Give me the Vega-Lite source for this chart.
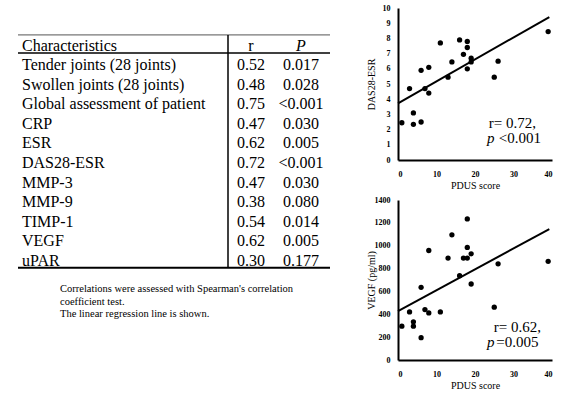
{
  "$schema": "https://vega.github.io/schema/vega-lite/v6.json",
  "padding": {"left": 0, "top": 4, "right": 0, "bottom": 0},
  "background": "white",
  "spacing": 26,
  "config": {
    "view": {"stroke": null},
    "font": "Liberation Serif",
    "text": {"font": "Liberation Serif"},
    "axis": {
      "domainColor": "black",
      "domainWidth": 2,
      "ticks": false,
      "tickSize": 0,
      "tickCount": 20,
      "grid": false,
      "labelOverlap": false,
      "labelFont": "Liberation Serif",
      "labelFontWeight": "bold",
      "labelFontSize": 8,
      "labelColor": "black",
      "titleFont": "Liberation Serif",
      "titleFontWeight": "normal",
      "titleFontSize": 10,
      "titleColor": "black"
    },
    "axisX": {"labelPadding": 10, "titlePadding": 2},
    "axisY": {"labelPadding": 8, "minExtent": 22, "maxExtent": 22, "titlePadding": 0}
  },
  "datasets": {
    "table": [
      {"row": 0, "Characteristics": "Characteristics", "r": "r", "P": "P"},
      {"row": 1, "Characteristics": "Tender joints (28 joints)", "r": "0.52", "P": "0.017"},
      {"row": 2, "Characteristics": "Swollen joints (28 joints)", "r": "0.48", "P": "0.028"},
      {"row": 3, "Characteristics": "Global assessment of patient", "r": "0.75", "P": "<0.001"},
      {"row": 4, "Characteristics": "CRP", "r": "0.47", "P": "0.030"},
      {"row": 5, "Characteristics": "ESR", "r": "0.62", "P": "0.005"},
      {"row": 6, "Characteristics": "DAS28-ESR", "r": "0.72", "P": "<0.001"},
      {"row": 7, "Characteristics": "MMP-3", "r": "0.47", "P": "0.030"},
      {"row": 8, "Characteristics": "MMP-9", "r": "0.38", "P": "0.080"},
      {"row": 9, "Characteristics": "TIMP-1", "r": "0.54", "P": "0.014"},
      {"row": 10, "Characteristics": "VEGF", "r": "0.62", "P": "0.005"},
      {"row": 11, "Characteristics": "uPAR", "r": "0.30", "P": "0.177"}
    ],
    "das": [
      {"PDUS": 1, "DAS28": 2.45}, {"PDUS": 3, "DAS28": 4.7}, {"PDUS": 4, "DAS28": 3.1},
      {"PDUS": 4, "DAS28": 2.35}, {"PDUS": 6, "DAS28": 2.5}, {"PDUS": 6, "DAS28": 5.9},
      {"PDUS": 7, "DAS28": 4.7}, {"PDUS": 8, "DAS28": 4.4}, {"PDUS": 8, "DAS28": 6.1},
      {"PDUS": 11, "DAS28": 7.7}, {"PDUS": 13, "DAS28": 5.45}, {"PDUS": 14, "DAS28": 6.45},
      {"PDUS": 16, "DAS28": 7.9}, {"PDUS": 17, "DAS28": 6.95}, {"PDUS": 18, "DAS28": 7.8},
      {"PDUS": 18, "DAS28": 7.4}, {"PDUS": 18, "DAS28": 6.0}, {"PDUS": 19, "DAS28": 6.7},
      {"PDUS": 19, "DAS28": 6.45}, {"PDUS": 25, "DAS28": 5.45}, {"PDUS": 26, "DAS28": 6.5},
      {"PDUS": 39, "DAS28": 8.45}
    ],
    "vegf": [
      {"PDUS": 1, "VEGF": 296}, {"PDUS": 3, "VEGF": 421}, {"PDUS": 4, "VEGF": 334},
      {"PDUS": 4, "VEGF": 296}, {"PDUS": 6, "VEGF": 195}, {"PDUS": 6, "VEGF": 636},
      {"PDUS": 7, "VEGF": 441}, {"PDUS": 8, "VEGF": 412}, {"PDUS": 8, "VEGF": 958},
      {"PDUS": 11, "VEGF": 421}, {"PDUS": 13, "VEGF": 892}, {"PDUS": 14, "VEGF": 1095},
      {"PDUS": 16, "VEGF": 738}, {"PDUS": 17, "VEGF": 892}, {"PDUS": 18, "VEGF": 1234},
      {"PDUS": 18, "VEGF": 985}, {"PDUS": 18, "VEGF": 892}, {"PDUS": 19, "VEGF": 929},
      {"PDUS": 19, "VEGF": 665}, {"PDUS": 25, "VEGF": 462}, {"PDUS": 26, "VEGF": 842},
      {"PDUS": 39, "VEGF": 863}
    ]
  },
  "hconcat": [
    {
      "width": 340,
      "height": 330,
      "layer": [
        {
          "data": {"name": "table"},
          "mark": {"type": "text", "align": "left", "baseline": "middle", "fontSize": 16, "font": "Liberation Serif", "color": "black"},
          "encoding": {
            "x": {"datum": 22, "type": "quantitative", "scale": {"domain": [0, 340], "nice": false, "zero": false}, "axis": null},
            "y": {"field": "row", "type": "quantitative", "scale": {"domain": [0, 11], "range": [37.5, 253], "nice": false, "zero": false}, "axis": null},
            "text": {"field": "Characteristics"}
          }
        },
        {
          "data": {"name": "table"},
          "mark": {"type": "text", "align": "center", "baseline": "middle", "fontSize": 16, "font": "Liberation Serif", "color": "black"},
          "encoding": {
            "x": {"datum": 251, "type": "quantitative"},
            "y": {"field": "row", "type": "quantitative"},
            "text": {"field": "r"}
          }
        },
        {
          "data": {"name": "table"},
          "transform": [{"filter": "datum.row > 0"}],
          "mark": {"type": "text", "align": "center", "baseline": "middle", "fontSize": 16, "font": "Liberation Serif", "color": "black"},
          "encoding": {
            "x": {"datum": 301, "type": "quantitative"},
            "y": {"field": "row", "type": "quantitative"},
            "text": {"field": "P"}
          }
        },
        {
          "data": {"name": "table"},
          "transform": [{"filter": "datum.row == 0"}],
          "mark": {"type": "text", "align": "center", "baseline": "middle", "fontSize": 16, "font": "Liberation Serif", "fontStyle": "italic", "color": "black"},
          "encoding": {
            "x": {"datum": 301, "type": "quantitative"},
            "y": {"field": "row", "type": "quantitative"},
            "text": {"field": "P"}
          }
        },
        {
          "data": {"values": [{}]},
          "mark": {"type": "rule", "color": "#555", "strokeWidth": 1},
          "encoding": {"x": {"datum": 18, "type": "quantitative"}, "x2": {"datum": 330}, "y": {"datum": -0.54, "type": "quantitative"}}
        },
        {
          "data": {"values": [{}]},
          "mark": {"type": "rule", "color": "black", "strokeWidth": 1.5},
          "encoding": {"x": {"datum": 18, "type": "quantitative"}, "x2": {"datum": 330}, "y": {"datum": 0.38, "type": "quantitative"}}
        },
        {
          "data": {"values": [{}]},
          "mark": {"type": "rule", "color": "black", "strokeWidth": 2},
          "encoding": {"x": {"datum": 18, "type": "quantitative"}, "x2": {"datum": 330}, "y": {"datum": 11.35, "type": "quantitative"}}
        },
        {
          "data": {"values": [{}]},
          "mark": {"type": "rule", "color": "black", "strokeWidth": 1.5},
          "encoding": {"x": {"datum": 228, "type": "quantitative"}, "y": {"datum": -0.54, "type": "quantitative"}, "y2": {"datum": 11.35}}
        },
        {
          "data": {"values": [{}]},
          "mark": {"type": "text", "align": "left", "baseline": "middle", "fontSize": 10.5, "lineHeight": 12.5, "font": "Liberation Serif", "color": "black"},
          "encoding": {
            "x": {"datum": 60, "type": "quantitative"},
            "y": {"datum": 12.43, "type": "quantitative"},
            "text": {"value": ["Correlations were assessed with Spearman's correlation", "coefficient test.", "The linear regression line is shown."]}
          }
        }
      ]
    },
    {
      "spacing": 6,
      "vconcat": [
        {
          "width": 154,
          "height": 152,
          "layer": [
            {
              "data": {"name": "das"},
              "mark": {"type": "point", "filled": true, "color": "black", "size": 28, "opacity": 1},
              "encoding": {
                "x": {"field": "PDUS", "type": "quantitative", "scale": {"domain": [0, 40], "nice": false}, "axis": {"title": "PDUS score", "values": [0, 10, 20, 30, 40], "tickCount": 20}},
                "y": {"field": "DAS28", "type": "quantitative", "scale": {"domain": [0, 10], "nice": false}, "axis": {"title": "DAS28-ESR", "format": "d", "values": [0, 1, 2, 3, 4, 5, 6, 7, 8, 9, 10], "tickCount": 20}}
              }
            },
            {
              "data": {"name": "das"},
              "transform": [{"regression": "DAS28", "on": "PDUS", "extent": [0, 39.3]}],
              "mark": {"type": "line", "color": "black", "strokeWidth": 2},
              "encoding": {
                "x": {"field": "PDUS", "type": "quantitative"},
                "y": {"field": "DAS28", "type": "quantitative"}
              }
            },
            {
              "data": {"values": [{}]},
              "mark": {"type": "text", "align": "left", "baseline": "middle", "fontSize": 15, "font": "Liberation Serif", "color": "black"},
              "encoding": {"x": {"datum": 23.6, "type": "quantitative"}, "y": {"datum": 2.43, "type": "quantitative"}, "text": {"value": "r= 0.72,"}}
            },
            {
              "data": {"values": [{}]},
              "mark": {"type": "text", "align": "left", "baseline": "middle", "fontSize": 15, "font": "Liberation Serif", "fontStyle": "italic", "color": "black"},
              "encoding": {"x": {"datum": 23.1, "type": "quantitative"}, "y": {"datum": 1.45, "type": "quantitative"}, "text": {"value": "p"}}
            },
            {
              "data": {"values": [{}]},
              "mark": {"type": "text", "align": "left", "baseline": "middle", "fontSize": 15, "font": "Liberation Serif", "color": "black"},
              "encoding": {"x": {"datum": 26.2, "type": "quantitative"}, "y": {"datum": 1.45, "type": "quantitative"}, "text": {"value": "<0.001"}}
            }
          ]
        },
        {
          "width": 154,
          "height": 160,
          "layer": [
            {
              "data": {"name": "vegf"},
              "mark": {"type": "point", "filled": true, "color": "black", "size": 28, "opacity": 1},
              "encoding": {
                "x": {"field": "PDUS", "type": "quantitative", "scale": {"domain": [0, 40], "nice": false}, "axis": {"title": "PDUS score", "values": [0, 10, 20, 30, 40], "tickCount": 20}},
                "y": {"field": "VEGF", "type": "quantitative", "scale": {"domain": [0, 1400], "nice": false}, "axis": {"title": "VEGF (pg/ml)", "format": "d", "values": [0, 200, 400, 600, 800, 1000, 1200, 1400], "tickCount": 20}}
              }
            },
            {
              "data": {"name": "vegf"},
              "transform": [{"regression": "VEGF", "on": "PDUS", "extent": [0, 39.3]}],
              "mark": {"type": "line", "color": "black", "strokeWidth": 2},
              "encoding": {
                "x": {"field": "PDUS", "type": "quantitative"},
                "y": {"field": "VEGF", "type": "quantitative"}
              }
            },
            {
              "data": {"values": [{}]},
              "mark": {"type": "text", "align": "left", "baseline": "middle", "fontSize": 15, "font": "Liberation Serif", "color": "black"},
              "encoding": {"x": {"datum": 24.9, "type": "quantitative"}, "y": {"datum": 291, "type": "quantitative"}, "text": {"value": "r= 0.62,"}}
            },
            {
              "data": {"values": [{}]},
              "mark": {"type": "text", "align": "left", "baseline": "middle", "fontSize": 15, "font": "Liberation Serif", "fontStyle": "italic", "color": "black"},
              "encoding": {"x": {"datum": 23.1, "type": "quantitative"}, "y": {"datum": 160, "type": "quantitative"}, "text": {"value": "p"}}
            },
            {
              "data": {"values": [{}]},
              "mark": {"type": "text", "align": "left", "baseline": "middle", "fontSize": 15, "font": "Liberation Serif", "color": "black"},
              "encoding": {"x": {"datum": 25.5, "type": "quantitative"}, "y": {"datum": 160, "type": "quantitative"}, "text": {"value": "=0.005"}}
            }
          ]
        }
      ]
    }
  ]
}
